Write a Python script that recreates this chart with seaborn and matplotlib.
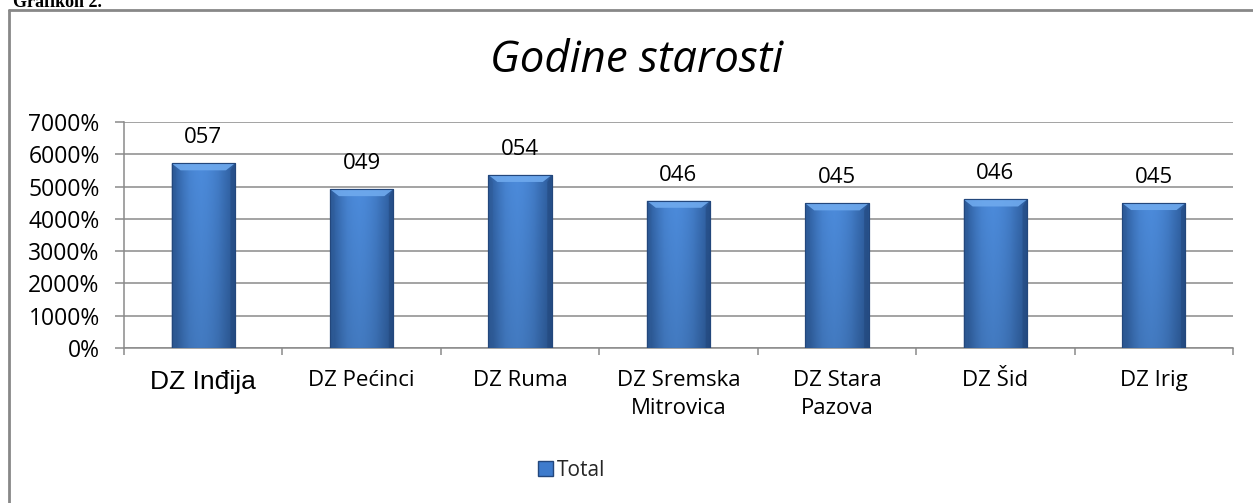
import numpy as np
import pandas as pd
import matplotlib
matplotlib.use("Agg")
import matplotlib.pyplot as plt
import seaborn as sns
from matplotlib.patches import Polygon
from matplotlib.lines import Line2D
from matplotlib.ticker import FuncFormatter, FixedLocator

# ---- data ----
categories = ["DZ Inđija", "DZ Pećinci", "DZ Ruma", "DZ Sremska\nMitrovica",
              "DZ Stara\nPazova", "DZ Šid", "DZ Irig"]
values = [57.2, 49.2, 53.6, 45.6, 44.8, 46.0, 44.9]
value_labels = ["057", "049", "054", "046", "045", "046", "045"]
y_ticks = [0, 10, 20, 30, 40, 50, 60, 70]
title_text = "Godine starosti"
legend_label = "Total"
caption_text = "Grafikon 2."

df = pd.DataFrame({"cat": categories, "val": values})

sns.set_theme(style="white")
plt.rcParams["font.family"] = ["Open Sans", "DejaVu Sans"]

W, H = 1253, 503
fig = plt.figure(figsize=(W / 100, H / 100), dpi=100)
ax = fig.add_axes([124 / W, 1 - 348 / H, (1233 - 124) / W, (348 - 122) / H])

sns.barplot(data=df, x="cat", y="val", ax=ax, color="#3e7bcc", width=0.4,
            edgecolor="#23477c", linewidth=0.8, zorder=3, saturation=1)

ax.set_ylim(0, 70)
ax.set_xlim(-0.5, len(categories) - 0.5)

# gradient overlay on bars
prof = np.array([0.0, 0.2, 0.4, 0.55, 0.62, 0.65, 0.62, 0.55, 0.45, 0.3, 0.15, 0.0])
dark = np.array([0x2b, 0x59, 0x98]) / 255
light = np.array([0x4c, 0x8b, 0xdb]) / 255
xs = np.interp(np.linspace(0, 1, 60), np.linspace(0, 1, len(prof)), prof) / 0.65
grad = dark[None, :] + (light - dark)[None, :] * xs[:, None]
vert = np.linspace(1.0, 0.88, 80)  # darker to bottom
img = grad[None, :, :] * vert[:, None, None]

px_y = 70 / 226.0  # data units per pixel vertically
px_x = (len(categories)) / 1109.0
for i, p in enumerate(ax.patches):
    x0, y0 = p.get_x(), p.get_y()
    w, h = p.get_width(), p.get_height()
    im = ax.imshow(img, extent=[x0, x0 + w, y0, y0 + h], aspect="auto",
                   zorder=3.5, origin="upper")
    im.set_clip_path(p)
    # top bevel
    bh = 7 * px_y
    bw = 9 * px_x
    bevel = Polygon([[x0, y0 + h], [x0 + w, y0 + h], [x0 + w - bw, y0 + h - bh],
                     [x0 + bw, y0 + h - bh]], closed=True,
                    facecolor="#6faaee", edgecolor="none", alpha=0.9, zorder=3.6)
    ax.add_patch(bevel)
    # left and right bevel sides
    ax.add_patch(Polygon([[x0, y0 + h], [x0 + bw * 0.5, y0 + h - bh], [x0 + bw * 0.5, y0],
                          [x0, y0]], closed=True, facecolor="#2f5c98", edgecolor="none",
                         alpha=0.5, zorder=3.6))
    ax.add_patch(Polygon([[x0 + w, y0 + h], [x0 + w - bw * 0.5, y0 + h - bh],
                          [x0 + w - bw * 0.5, y0], [x0 + w, y0]], closed=True,
                         facecolor="#22467a", edgecolor="none", alpha=0.5, zorder=3.6))
    # outline again on top
    ax.add_patch(plt.Rectangle((x0, y0), w, h, fill=False, edgecolor="#23477c",
                               linewidth=0.8, zorder=3.8))
    ax.annotate(value_labels[i], (x0 + w / 2, y0 + h), xytext=(0, 14.5),
                textcoords="offset points", ha="center", va="baseline",
                fontsize=16, color="#000000", zorder=5)

# grid & axes
ax.yaxis.set_major_locator(FixedLocator(y_ticks))
ax.yaxis.set_major_formatter(FuncFormatter(lambda v, _: f"{int(round(v * 100))}%"))
ax.grid(axis="y", color="#8a8a8a", linewidth=1.1, zorder=0)
ax.set_axisbelow(True)
for s in ["top", "right"]:
    ax.spines[s].set_visible(False)
for s in ["left", "bottom"]:
    ax.spines[s].set_color("#8a8a8a")
    ax.spines[s].set_linewidth(1.1)

ax.tick_params(axis="y", which="major", length=6.5, width=1.1, color="#8a8a8a",
               pad=11, labelsize=16.5, labelcolor="#000000", left=True)

ax.xaxis.set_major_locator(FixedLocator(np.arange(-0.5, len(categories), 1.0)))
ax.xaxis.set_major_formatter(FuncFormatter(lambda v, _: ""))
ax.xaxis.set_minor_locator(FixedLocator(np.arange(len(categories))))
ax.set_xticklabels(categories, minor=True)
ax.tick_params(axis="x", which="major", length=5, width=1.1, color="#8a8a8a",
               direction="out", bottom=True)
ax.tick_params(axis="x", which="minor", length=0, pad=16, labelsize=16,
               labelcolor="#000000")
for t in ax.get_xticklabels(minor=True):
    t.set_linespacing(1.4)
    t.set_verticalalignment("top")
labs = ax.get_xticklabels(minor=True)
labs[0].set_fontsize(19)
labs[0].set_fontfamily(["Liberation Sans", "DejaVu Sans"])
ax.set_xlabel("")
ax.set_ylabel("")

# title
fig.text(637 / W, 1 - 61 / H, title_text, ha="center", va="center",
         fontsize=31.5, style="italic", color="#000000")

# legend
leg_handle = plt.Rectangle((0, 0), 1, 1, facecolor="#3e7bcc", edgecolor="#23477c")
fig.legend([leg_handle], [legend_label], loc="center", bbox_to_anchor=(572 / W, 1 - 470 / H),
           frameon=False, fontsize=15, handlelength=0.7, handleheight=0.7,
           handletextpad=0.2)

# outer chart border (left and top)
fig.add_artist(Line2D([9 / W, 9 / W], [0, 1 - 10 / H], transform=fig.transFigure,
                      color="#888888", linewidth=2))
fig.add_artist(Line2D([9 / W, 1], [1 - 10 / H, 1 - 10 / H], transform=fig.transFigure,
                      color="#888888", linewidth=2))

# cropped caption at top left (the reference shows only its lower part)
fig.text(13 / W, 1 - 7 / H, caption_text, ha="left", va="baseline", fontsize=13,
         fontweight="bold", family=["Liberation Serif", "DejaVu Serif"], color="#000000")

fig.savefig("out.png", dpi=100, facecolor="white")
